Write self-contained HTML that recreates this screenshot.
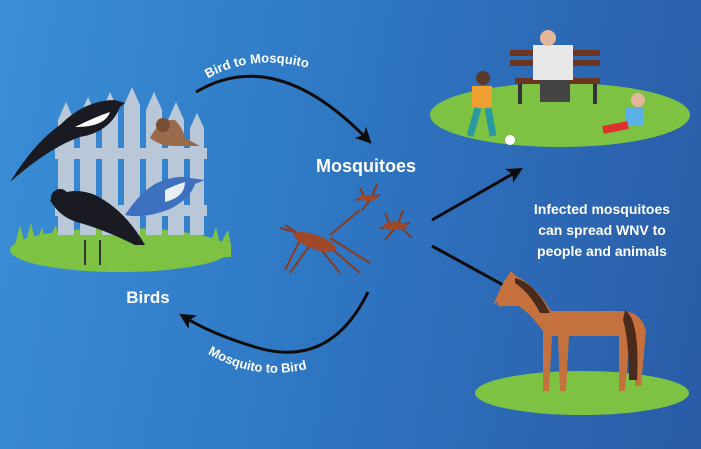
<!DOCTYPE html>
<html><head><meta charset="utf-8"><style>
html,body{margin:0;padding:0}
body{width:701px;height:449px;overflow:hidden;background:linear-gradient(100deg,#3a8fd6 0%,#2f78c4 45%,#2a5ba6 100%);font-family:"Liberation Sans",sans-serif}
</style></head><body>
<svg width="701" height="449" viewBox="0 0 701 449" xmlns="http://www.w3.org/2000/svg" style="position:absolute;left:0;top:0">
<defs>
<marker id="ah2" markerWidth="16" markerHeight="16" refX="8" refY="8" orient="auto" markerUnits="userSpaceOnUse" viewBox="0 0 16 16"><path d="M0,0 L16,8 L0,16 L4,8 z" fill="#0d0d0d"/></marker>
<path id="tp1" d="M205,80 Q265,45 340,80"/>
<path id="tp2" d="M205,352 Q270,392 345,355"/>
</defs>
<ellipse cx="120" cy="250" rx="110" ry="22" fill="#7dc242"/>
<g fill="#b9c8d8">
<path d="M58,120 l8,-18 l8,18 v115 h-16z"/>
<path d="M80,115 l8,-18 l8,18 v120 h-16z"/>
<path d="M102,110 l8,-18 l8,18 v125 h-16z"/>
<path d="M124,105 l8,-18 l8,18 v130 h-16z"/>
<path d="M146,110 l8,-18 l8,18 v125 h-16z"/>
<path d="M168,120 l8,-18 l8,18 v115 h-16z"/>
<path d="M190,128 l7,-15 l7,15 v107 h-14z"/>
<rect x="55" y="148" width="152" height="11"/>
<rect x="55" y="205" width="152" height="11"/>
</g>
<path d="M15,245 l5,-20 l5,20 l6,-22 l5,22 l6,-18 l4,18 l10,-20 l4,20 l150,0 l6,-18 l4,18 l8,-15 l3,15 v12 h-198z" fill="#7dc242"/>
<path d="M50,200 q20,-15 45,-5 q30,15 50,50 l-10,0 q-30,-15 -55,-22 q-20,-5 -30,-23z" fill="#1a1a22"/>
<circle cx="60" cy="198" r="9" fill="#1a1a22"/>
<path d="M85,240 v25 M100,240 v25" stroke="#333" stroke-width="2"/>
<path d="M60,125 q25,-25 55,-25 l10,3 l-5,4 q-10,25 -40,30 q-30,10 -70,45 q25,-40 50,-57z" fill="#1a1a22"/>
<path d="M75,127 q20,-10 35,-15 q-5,15 -35,15z" fill="#fff"/>
<path d="M125,215 q20,-30 40,-35 q15,-5 25,-2 l15,2 l-10,4 q-5,15 -25,25 q-25,10 -45,6z" fill="#3e70c0"/>
<path d="M165,190 q10,-5 20,-8 q0,15 -20,20z" fill="#e8eef5"/>
<path d="M150,138 q10,-20 25,-18 q8,8 10,18 l15,8 l-25,0 q-15,0 -25,-8z" fill="#9a6b4a"/>
<circle cx="163" cy="125" r="7" fill="#7a4e35"/>
<text x="148" y="303" fill="#fff" font-size="17" font-weight="bold" text-anchor="middle">Birds</text>
<path d="M196,92 Q275,45 366,138" fill="none" stroke="#0d0d0d" stroke-width="3" marker-end="url(#ah2)"/>
<text font-size="13" font-weight="bold" fill="#fff"><textPath href="#tp1" startOffset="3">Bird to Mosquito</textPath></text>
<path d="M368,292 Q330,370 255,347 Q212,334 186,318" fill="none" stroke="#0d0d0d" stroke-width="3" marker-end="url(#ah2)"/>
<text font-size="13" font-weight="bold" fill="#fff"><textPath href="#tp2" startOffset="3">Mosquito to Bird</textPath></text>
<text x="316" y="172" fill="#fff" font-size="18" font-weight="bold">Mosquitoes</text>
<g stroke="#8b3a1c" stroke-width="2" fill="none">
<path d="M280,228 q20,5 45,15 M300,240 l-15,30 M310,245 l-20,28 M320,248 l20,25 M325,243 l35,30 M330,238 l40,25 M300,235 l-15,-10"/>
<path d="M330,235 l30,-25"/>
<path d="M380,228 l30,-5 M390,225 l-5,-12 M398,224 l5,-14 M395,228 l-10,12 M402,228 l10,10"/>
<path d="M355,200 l25,-5 M365,198 l-5,-10 M372,196 l5,-12 M370,200 l-8,10"/>
</g>
<ellipse cx="315" cy="242" rx="22" ry="7" fill="#a0482a" transform="rotate(20 315 242)"/>
<ellipse cx="395" cy="226" rx="12" ry="4" fill="#a0482a"/>
<ellipse cx="368" cy="198" rx="10" ry="3" fill="#a0482a"/>
<path d="M432,220 L516,172" stroke="#0d0d0d" stroke-width="3" marker-end="url(#ah2)"/>
<path d="M432,246 L516,292" stroke="#0d0d0d" stroke-width="3" marker-end="url(#ah2)"/>
<ellipse cx="560" cy="115" rx="130" ry="32" fill="#7dc242"/>
<rect x="510" y="50" width="90" height="6" fill="#6b3520"/>
<rect x="510" y="60" width="90" height="6" fill="#6b3520"/>
<rect x="515" y="78" width="85" height="6" fill="#6b3520"/>
<path d="M520,84 v20 M595,84 v20" stroke="#333" stroke-width="4"/>
<rect x="533" y="45" width="40" height="35" fill="#e8e8e8"/>
<circle cx="548" cy="38" r="8" fill="#e5b59a"/>
<rect x="540" y="80" width="30" height="22" fill="#444"/>
<circle cx="483" cy="78" r="7" fill="#5a3a2a"/>
<rect x="472" y="86" width="20" height="22" fill="#f0a030"/>
<path d="M478,108 l-8,28 M488,108 l5,28" stroke="#2a9aa0" stroke-width="7"/>
<circle cx="510" cy="140" r="5" fill="#fff"/>
<circle cx="638" cy="100" r="7" fill="#e5b59a"/>
<rect x="625" y="107" width="18" height="18" fill="#5bb0e8"/>
<path d="M628,125 l-25,5" stroke="#e03030" stroke-width="8"/>
<g fill="#fff" font-size="14" font-weight="bold" text-anchor="middle">
<text x="602" y="214">Infected mosquitoes</text>
<text x="602" y="235">can spread WNV to</text>
<text x="602" y="256">people and animals</text>
</g>
<ellipse cx="582" cy="393" rx="107" ry="22" fill="#7dc242"/>
<path d="M493,305 l10,-22 l8,-12 l5,5 q20,10 35,35 l70,0 q20,0 25,20 l-5,55 l-6,0 l0,-50 l-5,0 l-5,55 h-6 l0,-55 l-50,0 l-3,55 h-6 l-2,-55 l-6,0 l-3,55 h-6 l0,-60 q-15,-20 -25,-25 l-15,0 q-8,2 -5,-5z" fill="#c4713e"/>
<path d="M515,278 q20,5 35,35 l-10,0 q-10,-20 -25,-30z" fill="#4a2a1a"/>
<path d="M625,310 q15,10 12,70 l-8,0 q0,-40 -6,-60z" fill="#4a2a1a"/>
</svg>
</body></html>
